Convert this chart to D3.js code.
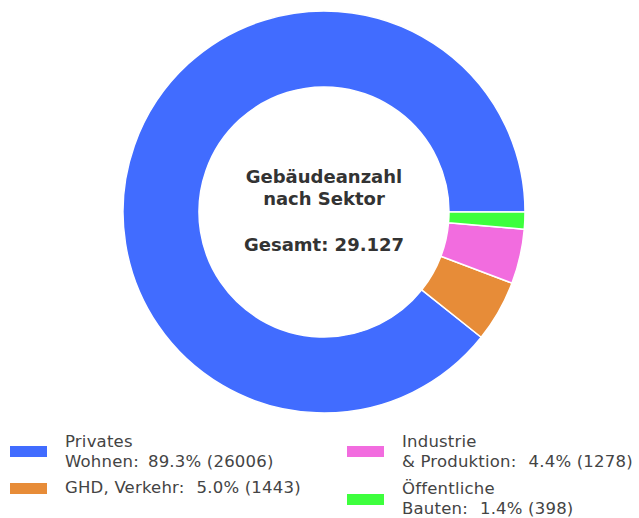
<!DOCTYPE html>
<html><head><meta charset="utf-8">
<script src="https://cdn.jsdelivr.net/npm/d3@7"></script>
<style>body{margin:0;background:#fff}svg{display:block}</style>
</head><body>
<script>
const categories = [["Privates", "Wohnen:"], ["GHD, Verkehr:"], ["Industrie", "& Produktion:"], ["Öffentliche", "Bauten:"]];
const values = [26006, 1443, 1278, 398];
const percents = ["89.3%", "5.0%", "4.4%", "1.4%"];
const colors = ["#416cff", "#e78c38", "#f26cdf", "#3dff3d"];
const centerLines = ["Gebäudeanzahl", "nach Sektor", "", "Gesamt: 29.127"];

const W = 639, H = 518;
const svg = d3.select("body").append("svg").attr("width", W).attr("height", H);
const font = "'DejaVu Sans', sans-serif";
const cx = 324, cy = 212, R = 201, r = 125;

const pie = d3.pie().sort(null).value(d => d)
  .startAngle(Math.PI / 2).endAngle(Math.PI / 2 - 2 * Math.PI);
const arc = d3.arc().innerRadius(r).outerRadius(R);
const g = svg.append("g").attr("transform", `translate(${cx},${cy})`);
g.selectAll("path").data(pie(values)).join("path")
  .attr("d", arc).attr("fill", (d, i) => colors[i])
  .attr("stroke", "#fff").attr("stroke-width", 1.5);

const ct = g.append("text").attr("text-anchor", "middle")
  .attr("font-family", font).attr("font-weight", 700).attr("font-size", 18).attr("fill", "#333");
const lineY = [-29, -7, 16, 39];
centerLines.forEach((t, i) => { if (t) ct.append("tspan").attr("x", 0).attr("y", lineY[i]).text(t); });

// legend
const pos = [
  {x: 10, y: 447, rectY: 446},
  {x: 10, y: 493, rectY: 483},
  {x: 347, y: 447, rectY: 446},
  {x: 347, y: 494, rectY: 494}
];
categories.forEach((lines, i) => {
  const p = pos[i];
  const lg = svg.append("g");
  lg.append("rect").attr("x", p.x).attr("y", p.rectY).attr("width", 37).attr("height", 11).attr("fill", colors[i]);
  const t = lg.append("text").attr("font-family", font).attr("font-size", 16.5).attr("fill", "#444")
    .attr("letter-spacing", 0.2);
  lines.forEach((l, j) => {
    t.append("tspan").attr("x", p.x + 55).attr("y", p.y + j * 20).text(l);
  });
  const pctNum = parseFloat(percents[i]);
  t.append("tspan").attr("dx", pctNum < 10 ? 12 : 9).text(`${percents[i]} (${values[i]})`);
});
</script>
</body></html>
